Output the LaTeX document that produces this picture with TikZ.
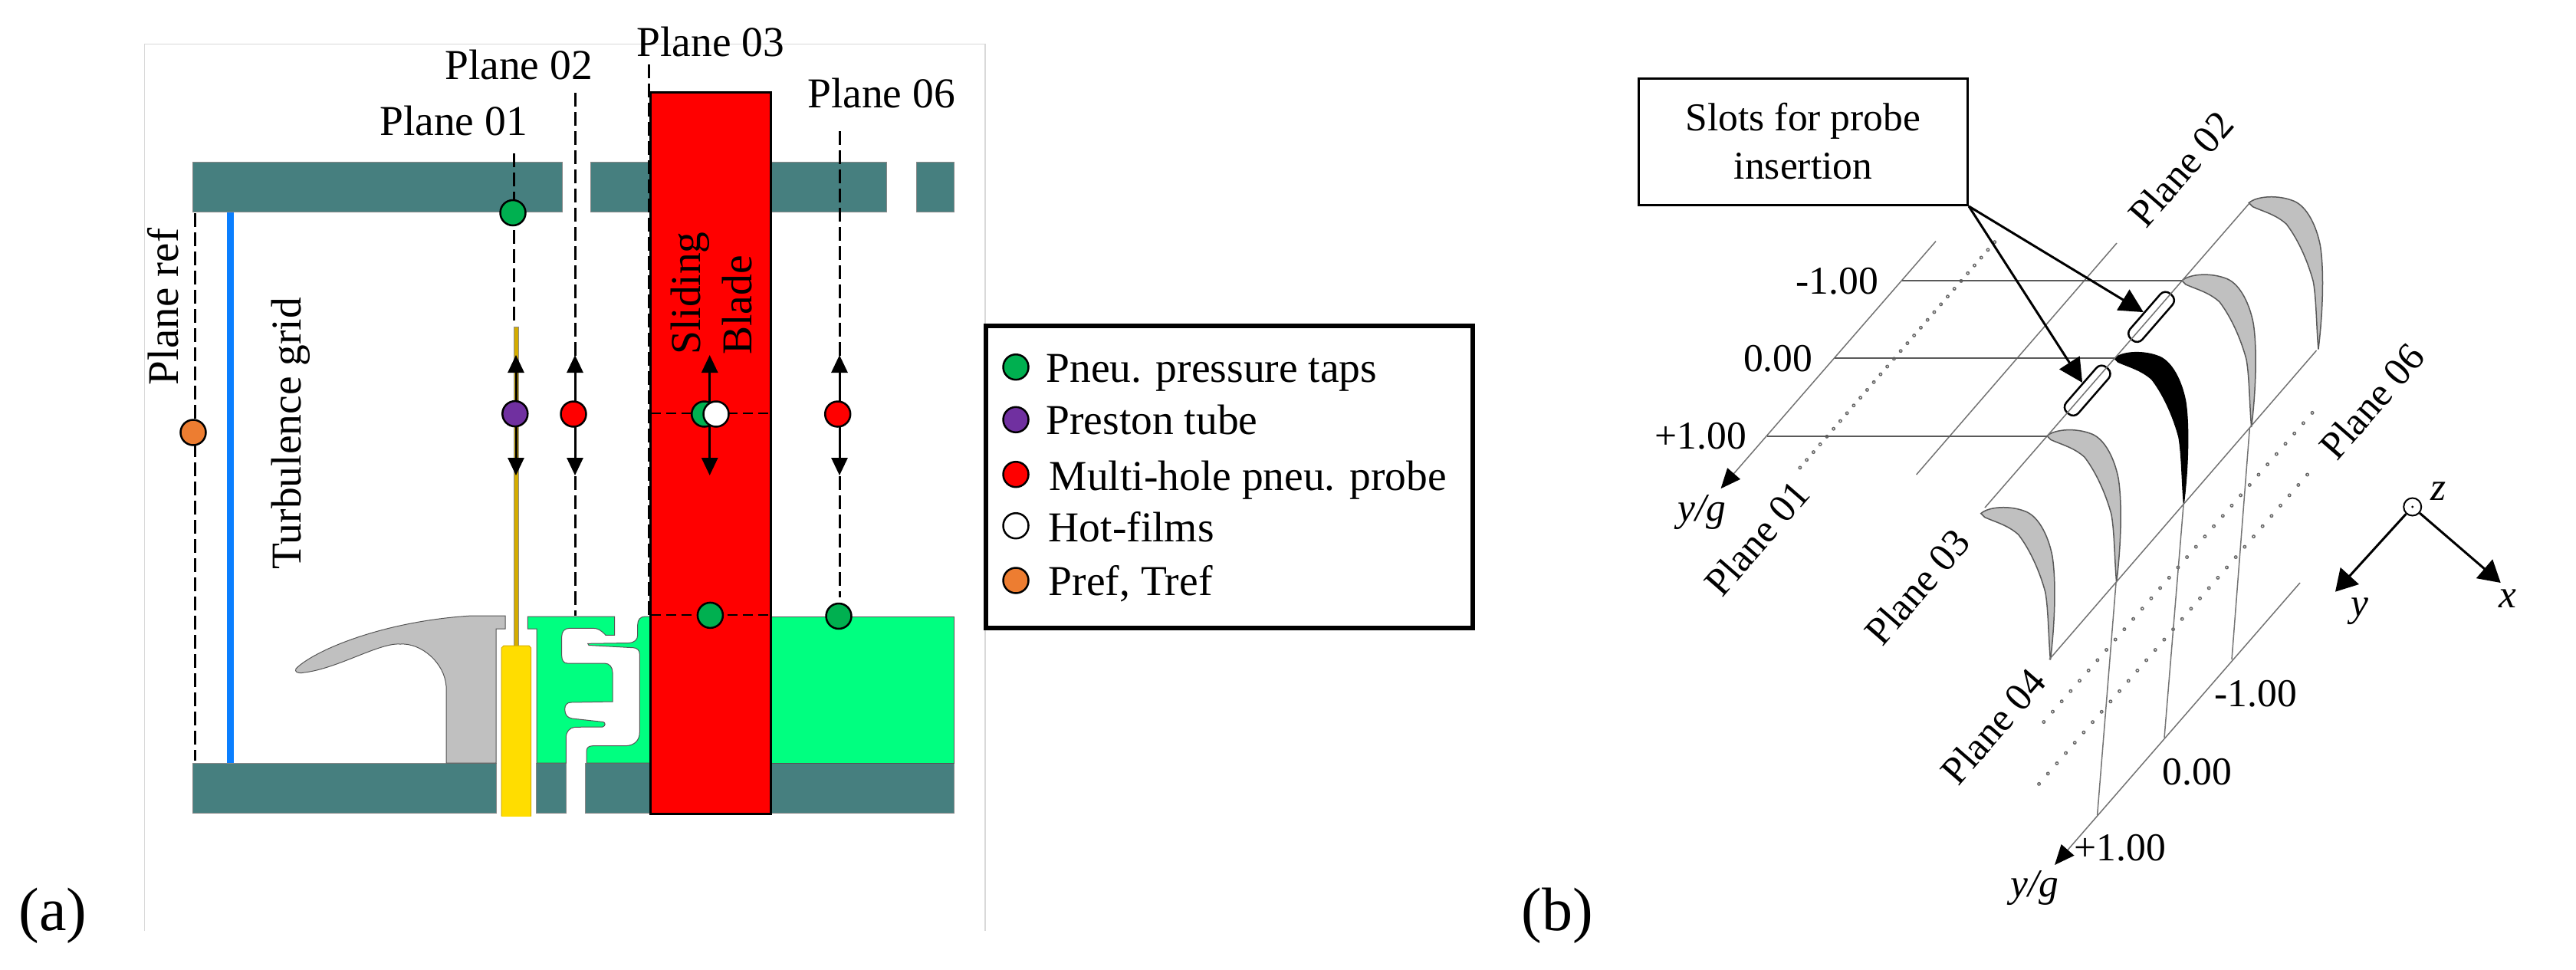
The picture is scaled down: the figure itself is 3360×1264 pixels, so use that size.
\documentclass[tikz,border=0pt]{standalone}
\usepackage{fontspec}
\setmainfont{Liberation Serif}
\usetikzlibrary{arrows.meta}
\definecolor{teal1}{HTML}{467F7F}
\definecolor{mint}{HTML}{00FF80}
\definecolor{goldy}{HTML}{FFDD00}
\definecolor{rodc}{HTML}{D4AC00}
\definecolor{gridb}{HTML}{0A7FFF}
\definecolor{bladeg}{HTML}{C0C0C0}
\definecolor{tapg}{HTML}{00B050}
\definecolor{prest}{HTML}{7030A0}
\definecolor{orng}{HTML}{ED7D31}
\definecolor{edge}{HTML}{555555}
\tikzset{
  wall/.style={fill=teal1,draw=edge!70,line width=1pt},
  dashln/.style={line width=3pt,dash pattern=on 18pt off 7pt},
  probe/.style={line width=3pt,{Triangle[length=23pt,width=21pt]}-{Triangle[length=23pt,width=21pt]}},
  mk/.style={circle,draw=black,line width=2.5pt,minimum size=33pt,inner sep=0pt},
  ta/.style={inner sep=0pt,anchor=base,font=\fontsize{55.5}{60}\selectfont},
  tb/.style={inner sep=0pt,anchor=base,font=\fontsize{51.5}{60}\selectfont},
  tbi/.style={inner sep=0pt,anchor=base,font=\fontsize{51.5}{60}\selectfont\itshape},
  tc/.style={inner sep=0pt,anchor=base,font=\fontsize{80}{90}\selectfont},
  thin1/.style={draw=black!55,line width=1.5pt},
  thin2/.style={draw=black!65,line width=2pt},
  wake/.style={draw=black!60,line width=5pt,line cap=round,dash pattern=on 0pt off #1,
     postaction={draw=white,line width=1.8pt,line cap=round,dash pattern=on 0pt off #1}},
  bigarrow/.style={line width=3pt,-{Triangle[length=31pt,width=31pt]}},
  axarrow/.style={thin1,-{Triangle[length=26pt,width=22pt,color=black,fill=black]}},
  slotn/.style={draw=black,fill=white,line width=2.5pt,rounded corners=9pt,minimum width=78pt,minimum height=21pt,inner sep=0pt,rotate=49}
}
\newcommand{\bladeat}[3]{\draw[#3,shift={(#1,#2)}] (0,0) .. controls (10,-9) and (38,-11) .. (59,-2.3)
  .. controls (76,5) and (88,30) .. (93,55) .. controls (98,85) and (97,140) .. (90.6,191)
  .. controls (88,160) and (88,125) .. (84,102.7) .. controls (78,80) and (66,50) .. (49,27.7)
  .. controls (35,15) and (18,11) .. (5,5) -- cycle;}
\begin{document}
\begin{tikzpicture}[x=1pt,y=-1pt]
\useasboundingbox (0,0) rectangle (3360,1264);
% ---------- panel a ----------
\draw[draw=black!15,line width=1.5pt] (188.5,1214) -- (188.5,57.6) -- (1285,57.6) -- (1285,1214);
\draw[wall] (251.5,211) rectangle (733,276.7);
\draw[wall] (770.7,211) rectangle (1156.5,276.7);
\draw[wall] (1195,211) rectangle (1244,276.7);
\draw[wall] (251.5,995) rectangle (647,1060);
\draw[wall] (699,995) rectangle (738.4,1060);
\draw[wall] (763.6,995) rectangle (848.5,1060);
\draw[wall] (1005,995) rectangle (1244,1060);
\fill[gridb] (296,277) rectangle (305,995);
% hub
\draw[fill=bladeg,draw=edge,line width=1pt] (659,803) -- (659,820) -- (647,820) -- (647,995) -- (582,995) -- (582,895)
  .. controls (580,865) and (550,838) .. (521.6,840) .. controls (495,838) and (440,872) .. (397,877)
  .. controls (388,879) and (384,876) .. (386,872) .. controls (410,848) and (500,810) .. (615,803) -- cycle;
% mint parts
\draw[fill=mint,draw=edge,line width=1pt] (688.3,804) -- (801.7,804) -- (801.7,828.3) -- (790,828.3) .. controls (784,822) and (780,819.3) .. (773.3,819.3) -- (743,819.3) .. controls (736,819.3) and (732.7,824) .. (732.7,830) -- (732.7,855) .. controls (732.7,861) and (735,865) .. (740,865) -- (788.3,865) .. controls (795,865) and (799,870) .. (799,877) -- (799,915) -- (745,916) .. controls (739,916) and (736.7,920) .. (736.7,925) .. controls (736.7,932) and (740,936) .. (746,937) -- (786.7,941.5) .. controls (790,942) and (790,947) .. (786,948) -- (750,948.3) .. controls (743,949) and (738.3,954) .. (738.3,962) -- (738.3,995) -- (700,995) -- (700,820) -- (688.3,820) -- cycle;
\draw[fill=mint,draw=edge,line width=1pt] (766.7,839.3) -- (820,838.5) .. controls (828,838) and (831.7,834) .. (831.7,828) -- (831.7,815) .. controls (831.7,808) and (835,804) .. (842,804) -- (848.5,804) -- (848.5,995) -- (765,995) -- (765,980) .. controls (765,975) and (768,972.7) .. (773,972.7) -- (815,972.7) .. controls (828,972.7) and (834.3,965) .. (834.3,955) -- (834.3,853) .. controls (834.3,848) and (831,845) .. (826,844.7) -- (768,841.5) -- cycle;
\draw[fill=mint,draw=edge,line width=1pt] (1005,804) rectangle (1244,995);
% rod and holder
\draw[fill=rodc,draw=black!45,line width=1pt] (670.5,426.5) rectangle (676,842);
\draw[fill=goldy,draw=rodc,line width=1pt] (654,1064.6) -- (654,845) -- (657,842) -- (690,842) -- (692.7,845) -- (692.7,1064.6);
\fill[goldy] (654.5,1050) rectangle (692.2,1064.6);
% sliding blade
\draw[fill=red,draw=black,line width=3pt] (848.5,120) rectangle (1005,1061);
% named probe end points
\coordinate (p1top) at (670,200);
\coordinate (p1bot) at (670,424);
\coordinate (p2top) at (750,121);
\coordinate (p2bot) at (750,803);
\coordinate (p3top) at (846.5,84);
\coordinate (p3bot) at (846.5,802);
\coordinate (p6top) at (1095,171);
\coordinate (p6bot) at (1095,779);
\coordinate (prtop) at (254,278);
\coordinate (prbot) at (254,992);
\coordinate (hAl) at (848.5,539);
\coordinate (hAr) at (1005,539);
\coordinate (hBl) at (848.5,802);
\coordinate (hBr) at (1005,802);
\draw[dashln] (p1top) -- (p1bot);
\draw[dashln] (p2top) -- (p2bot);
\draw[dashln] (p3top) -- (p3bot);
\draw[dashln] (p6top) -- (p6bot);
\draw[dashln] (prtop) -- (prbot);
\draw[line width=2.5pt,dash pattern=on 13pt off 7pt] (hAl) -- (hAr);
\draw[line width=2.5pt,dash pattern=on 13pt off 7pt] (hBl) -- (hBr);
% double arrows
\coordinate (a1t) at (673,463); \coordinate (a1b) at (673,620);
\coordinate (a2t) at (750,463); \coordinate (a2b) at (750,620);
\coordinate (a3t) at (925.7,463); \coordinate (a3b) at (925.7,620);
\coordinate (a6t) at (1095,463); \coordinate (a6b) at (1095,620);
\draw[probe] (a1t) -- (a1b);
\draw[probe] (a2t) -- (a2b);
\draw[probe] (a3t) -- (a3b);
\draw[probe] (a6t) -- (a6b);
% markers
\node[mk,fill=tapg] (m1) at (669,277.5) {};
\node[mk,fill=prest] (m2) at (671.8,539.6) {};
\node[mk,fill=red] (m3) at (748,540) {};
\node[mk,fill=tapg] (m4) at (918.7,540) {};
\node[mk,fill=white] (m5) at (934,540) {};
\node[mk,fill=red] (m6) at (1092.7,540) {};
\node[mk,fill=orng] (m7) at (252,564) {};
\node[mk,fill=tapg] (m8) at (926.4,802.4) {};
\node[mk,fill=tapg] (m9) at (1094,803.5) {};
% labels
\node[ta] (t01) at (591.5,176.7) {Plane 01};
\node[ta] (t02) at (676.5,103) {Plane 02};
\node[ta] (t03) at (927,73) {Plane 03};
\node[ta] (t06) at (1149.5,140) {Plane 06};
\node[ta,rotate=90,font=\fontsize{57}{60}\selectfont] (tref) at (232.6,400) {Plane ref};
\node[ta,rotate=90] (tgrid) at (392,565) {Turbulence grid};
\node[ta,rotate=90] (tsl) at (913,382.5) {Sliding};
\node[ta,rotate=90] (tbl) at (980,398) {Blade};
\node[tc] (ta) at (69,1213) {(a)};
\node[tc] (tbb) at (2031,1213) {(b)};
% legend
\node[draw=black,line width=6pt,minimum width=635pt,minimum height=393.7pt,inner sep=0pt] (legend) at (1603.5,622.2) {};
\node[mk,fill=tapg] (l1) at (1325,478.7) {};
\node[mk,fill=prest] (l2) at (1325,547.3) {};
\node[mk,fill=red] (l3) at (1325,618.7) {};
\node[mk,fill=white] (l4) at (1325,685.7) {};
\node[mk,fill=orng] (l5) at (1325,757) {};
\node[ta,anchor=base west] (lt1) at (1364.4,498.3) {Pneu. pressure taps};
\node[ta,anchor=base west] (lt2) at (1364.4,566.7) {Preston tube};
\node[ta,anchor=base west] (lt3) at (1368.5,639.3) {Multi-hole pneu. probe};
\node[ta,anchor=base west] (lt4) at (1367.6,706) {Hot-films};
\node[ta,anchor=base west] (lt5) at (1367.6,776.7) {Pref, Tref};
% ---------- panel b ----------
\coordinate (bl1a) at (2525,314.6); \coordinate (bl1b) at (2244.5,637.2);
\coordinate (bl2a) at (2761,317); \coordinate (bl2b) at (2499.6,619);
\coordinate (bl3a) at (2934,265); \coordinate (bl3b) at (2589,662);
\coordinate (bl4a) at (3021.5,457); \coordinate (bl4b) at (2673,860);
\coordinate (bl5a) at (3000,760); \coordinate (bl5b) at (2680,1128);
\coordinate (w0a) at (2601.7,315.7); \coordinate (w0b) at (2340,619);
\coordinate (w1a) at (3016,538.4); \coordinate (w1b) at (2665.4,942);
\coordinate (w2a) at (3009.5,619); \coordinate (w2b) at (2659,1023);
\bladeat{2933.3}{264.6}{fill=bladeg,draw=black!65,line width=1.5pt}
\bladeat{2846}{366}{fill=bladeg,draw=black!65,line width=1.5pt}
\bladeat{2757.7}{467.3}{fill=black,draw=black,line width=1pt}
\bladeat{2670}{568.5}{fill=bladeg,draw=black!65,line width=1.5pt}
\bladeat{2583.8}{669.6}{fill=bladeg,draw=black!65,line width=1.5pt}
\node[slotn] (s1) at (2806,413.3) {};
\node[slotn] (s2) at (2722.7,509.3) {};
\draw[axarrow] (bl1a) -- (bl1b);
\draw[thin1] (bl2a) -- (bl2b);
\draw[thin1] (bl3a) -- (bl3b);
\draw[thin1] (bl4a) -- (bl4b);
\draw[axarrow] (bl5a) -- (bl5b);
\draw[wake=13.4pt] (w0a) -- (w0b);
\draw[wake=17.8pt] (w1a) -- (w1b);
\draw[wake=17.8pt] (w2a) -- (w2b);
\coordinate (h1a) at (2480.5,366.4); \coordinate (h1b) at (2846,366.4);
\coordinate (h2a) at (2392.5,467.4); \coordinate (h2b) at (2758,467.4);
\coordinate (h3a) at (2305,568.7); \coordinate (h3b) at (2670,568.7);
\draw[thin2] (h1a) -- (h1b);
\draw[thin2] (h2a) -- (h2b);
\draw[thin2] (h3a) -- (h3b);
\coordinate (v1a) at (2934.3,558.3); \coordinate (v1b) at (2911,860);
\coordinate (v2a) at (2848,658.5); \coordinate (v2b) at (2823,962);
\coordinate (v3a) at (2760,760); \coordinate (v3b) at (2735.6,1063);
\draw[thin1] (v1a) -- (v1b);
\draw[thin1] (v2a) -- (v2b);
\draw[thin1] (v3a) -- (v3b);
% slots box
\node[draw=black,fill=white,line width=3pt,minimum width=429pt,minimum height=165pt,inner sep=0pt] (sbox) at (2352,185) {};
\node[tb] (sb1) at (2352,170) {Slots for probe};
\node[tb] (sb2) at (2352,233) {insertion};
\draw[bigarrow] (sbox.south east) -- (s1);
\draw[bigarrow] (sbox.south east) -- (s2);
% rotated labels
\node[tb,rotate=49] (b01) at (2305,713.5) {Plane 01};
\node[tb,rotate=49] (b02) at (2858,232) {Plane 02};
\node[tb,rotate=49] (b03) at (2514,777) {Plane 03};
\node[tb,rotate=49] (b04) at (2613,959) {Plane 04};
\node[tb,rotate=49] (b06) at (3107,535) {Plane 06};
\node[tb,anchor=base east] (n1) at (2450,383) {-1.00};
\node[tb,anchor=base east] (n2) at (2364.4,484.8) {0.00};
\node[tb,anchor=base east] (n3) at (2278,585.4) {+1.00};
\node[tb,anchor=base east] (n4) at (2996,921) {-1.00};
\node[tb,anchor=base east] (n5) at (2911,1023) {0.00};
\node[tb,anchor=base east] (n6) at (2825,1122.8) {+1.00};
\node[tbi] (yg1) at (2220,679) {y/g};
\node[tbi] (yg2) at (2654,1169) {y/g};
% axes triad
\node[draw=black,fill=white,circle,line width=2pt,minimum size=23pt,inner sep=0pt] (zc) at (3146.7,661) {};
\fill[black] (zc.center) circle[radius=1.7pt];
\coordinate (yt) at (3046,771.7);
\coordinate (xt) at (3261.7,760);
\draw[line width=3pt,-{Triangle[length=28pt,width=32pt]}] (zc) -- (yt);
\draw[line width=3pt,-{Triangle[length=28pt,width=32pt]}] (zc) -- (xt);
\node[tbi] (zl) at (3180,652) {z};
\node[tbi] (yl) at (3078,803) {y};
\node[tbi] (xl) at (3271,792.7) {x};
\end{tikzpicture}
\end{document}
